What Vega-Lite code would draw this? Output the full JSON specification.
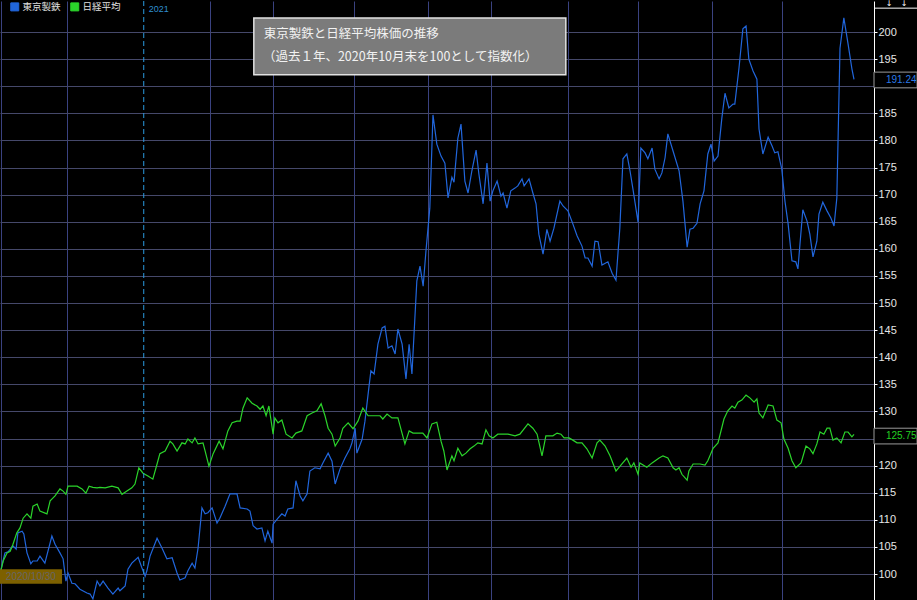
{
  "$schema": "https://vega.github.io/schema/vega-lite/v6.json",
  "width": 874,
  "height": 600,
  "padding": 0,
  "autosize": {"type": "pad"},
  "background": "#000000",
  "config": {
    "view": {"stroke": null},
    "font": "Noto Sans CJK JP"
  },
  "data": {
    "values": [
      {"name":"東京製鉄","day":1,"value":100},
      {"name":"東京製鉄","day":2.4,"value":103.9},
      {"name":"東京製鉄","day":3.3,"value":104.1},
      {"name":"東京製鉄","day":4.7,"value":105.2},
      {"name":"東京製鉄","day":5.6,"value":104.6},
      {"name":"東京製鉄","day":6.1,"value":107.6},
      {"name":"東京製鉄","day":7.3,"value":107.9},
      {"name":"東京製鉄","day":7.8,"value":107.4},
      {"name":"東京製鉄","day":8.7,"value":103.9},
      {"name":"東京製鉄","day":9.8,"value":101.9},
      {"name":"東京製鉄","day":10.4,"value":102.4},
      {"name":"東京製鉄","day":11.6,"value":102.4},
      {"name":"東京製鉄","day":12.4,"value":103.3},
      {"name":"東京製鉄","day":13.8,"value":102.0},
      {"name":"東京製鉄","day":15.8,"value":107.0},
      {"name":"東京製鉄","day":16.7,"value":105.5},
      {"name":"東京製鉄","day":18.1,"value":103.9},
      {"name":"東京製鉄","day":19.0,"value":102.8},
      {"name":"東京製鉄","day":19.8,"value":98.7},
      {"name":"東京製鉄","day":20.4,"value":100.2},
      {"name":"東京製鉄","day":21.5,"value":98.3},
      {"name":"東京製鉄","day":22.4,"value":98.2},
      {"name":"東京製鉄","day":23.8,"value":97.2},
      {"name":"東京製鉄","day":25.8,"value":96.5},
      {"name":"東京製鉄","day":26.7,"value":96.3},
      {"name":"東京製鉄","day":27.5,"value":95.4},
      {"name":"東京製鉄","day":28.7,"value":98.7},
      {"name":"東京製鉄","day":29.5,"value":97.8},
      {"name":"東京製鉄","day":30.4,"value":98.7},
      {"name":"東京製鉄","day":31.8,"value":97.4},
      {"name":"東京製鉄","day":33.2,"value":96.3},
      {"name":"東京製鉄","day":34.7,"value":97.4},
      {"name":"東京製鉄","day":35.2,"value":96.9},
      {"name":"東京製鉄","day":36.7,"value":97.8},
      {"name":"東京製鉄","day":37.5,"value":100.9},
      {"name":"東京製鉄","day":38.6,"value":102.0},
      {"name":"東京製鉄","day":40.4,"value":103.1},
      {"name":"東京製鉄","day":41.5,"value":101.1},
      {"name":"東京製鉄","day":42.4,"value":99.6},
      {"name":"東京製鉄","day":42.9,"value":100.6},
      {"name":"東京製鉄","day":43.8,"value":103.3},
      {"name":"東京製鉄","day":45.8,"value":106.6},
      {"name":"東京製鉄","day":47.2,"value":104.8},
      {"name":"東京製鉄","day":48.6,"value":102.8},
      {"name":"東京製鉄","day":50.1,"value":103.0},
      {"name":"東京製鉄","day":51.5,"value":100.2},
      {"name":"東京製鉄","day":52.3,"value":98.9},
      {"name":"東京製鉄","day":53.8,"value":99.3},
      {"name":"東京製鉄","day":54.6,"value":100.6},
      {"name":"東京製鉄","day":55.8,"value":102.0},
      {"name":"東京製鉄","day":56.6,"value":101.1},
      {"name":"東京製鉄","day":57.5,"value":104.8},
      {"name":"東京製鉄","day":58.6,"value":112.2},
      {"name":"東京製鉄","day":59.5,"value":111.1},
      {"name":"東京製鉄","day":60.3,"value":111.3},
      {"name":"東京製鉄","day":61.5,"value":112.2},
      {"name":"東京製鉄","day":62.9,"value":109.4},
      {"name":"東京製鉄","day":63.7,"value":110.3},
      {"name":"東京製鉄","day":65.2,"value":112.5},
      {"name":"東京製鉄","day":66.6,"value":114.8},
      {"name":"東京製鉄","day":68.6,"value":114.8},
      {"name":"東京製鉄","day":69.5,"value":112.2},
      {"name":"東京製鉄","day":71.5,"value":112.0},
      {"name":"東京製鉄","day":72.3,"value":111.6},
      {"name":"東京製鉄","day":73.2,"value":108.9},
      {"name":"東京製鉄","day":74.3,"value":108.3},
      {"name":"東京製鉄","day":75.7,"value":108.5},
      {"name":"東京製鉄","day":76.6,"value":106.1},
      {"name":"東京製鉄","day":77.4,"value":107.9},
      {"name":"東京製鉄","day":78.6,"value":105.7},
      {"name":"東京製鉄","day":78.9,"value":109.2},
      {"name":"東京製鉄","day":80.3,"value":110.3},
      {"name":"東京製鉄","day":81.4,"value":111.1},
      {"name":"東京製鉄","day":82.3,"value":110.7},
      {"name":"東京製鉄","day":83.1,"value":112.0},
      {"name":"東京製鉄","day":84.6,"value":112.2},
      {"name":"東京製鉄","day":85.4,"value":117.2},
      {"name":"東京製鉄","day":86.6,"value":114.4},
      {"name":"東京製鉄","day":87.4,"value":113.5},
      {"name":"東京製鉄","day":88.6,"value":114.8},
      {"name":"東京製鉄","day":89.4,"value":119.0},
      {"name":"東京製鉄","day":90.8,"value":119.6},
      {"name":"東京製鉄","day":92.3,"value":119.4},
      {"name":"東京製鉄","day":93.1,"value":120.5},
      {"name":"東京製鉄","day":94.6,"value":122.3},
      {"name":"東京製鉄","day":95.7,"value":120.8},
      {"name":"東京製鉄","day":96.6,"value":116.6},
      {"name":"東京製鉄","day":98.0,"value":119.4},
      {"name":"東京製鉄","day":99.4,"value":121.4},
      {"name":"東京製鉄","day":100.8,"value":123.1},
      {"name":"東京製鉄","day":101.4,"value":124.2},
      {"name":"東京製鉄","day":102.3,"value":126.9},
      {"name":"東京製鉄","day":102.8,"value":122.3},
      {"name":"東京製鉄","day":104.3,"value":124.9},
      {"name":"東京製鉄","day":105.1,"value":128.2},
      {"name":"東京製鉄","day":106.2,"value":134.3},
      {"name":"東京製鉄","day":106.8,"value":137.5},
      {"name":"東京製鉄","day":107.7,"value":136.9},
      {"name":"東京製鉄","day":108.8,"value":142.4},
      {"name":"東京製鉄","day":110.0,"value":145.4},
      {"name":"東京製鉄","day":110.8,"value":145.7},
      {"name":"東京製鉄","day":111.7,"value":141.7},
      {"name":"東京製鉄","day":112.8,"value":142.1},
      {"name":"東京製鉄","day":113.7,"value":140.6},
      {"name":"東京製鉄","day":114.5,"value":145.2},
      {"name":"東京製鉄","day":115.7,"value":142.4},
      {"name":"東京製鉄","day":116.8,"value":136.0},
      {"name":"東京製鉄","day":117.7,"value":142.4},
      {"name":"東京製鉄","day":118.5,"value":136.9},
      {"name":"東京製鉄","day":119.9,"value":154.1},
      {"name":"東京製鉄","day":120.8,"value":156.8},
      {"name":"東京製鉄","day":121.7,"value":153.1},
      {"name":"東京製鉄","day":122.5,"value":159.6},
      {"name":"東京製鉄","day":123.6,"value":167.5},
      {"name":"東京製鉄","day":124.5,"value":184.7},
      {"name":"東京製鉄","day":125.6,"value":179.3},
      {"name":"東京製鉄","day":126.8,"value":177.1},
      {"name":"東京製鉄","day":127.9,"value":175.8},
      {"name":"東京製鉄","day":128.8,"value":169.4},
      {"name":"東京製鉄","day":129.9,"value":173.2},
      {"name":"東京製鉄","day":130.5,"value":172.3},
      {"name":"東京製鉄","day":131.6,"value":180.4},
      {"name":"東京製鉄","day":132.5,"value":183.0},
      {"name":"東京製鉄","day":133.6,"value":172.5},
      {"name":"東京製鉄","day":134.5,"value":170.3},
      {"name":"東京製鉄","day":135.6,"value":174.4},
      {"name":"東京製鉄","day":136.8,"value":178.2},
      {"name":"東京製鉄","day":137.6,"value":173.8},
      {"name":"東京製鉄","day":138.8,"value":168.3},
      {"name":"東京製鉄","day":139.9,"value":175.8},
      {"name":"東京製鉄","day":140.8,"value":168.8},
      {"name":"東京製鉄","day":141.6,"value":170.7},
      {"name":"東京製鉄","day":142.8,"value":172.5},
      {"name":"東京製鉄","day":143.9,"value":169.7},
      {"name":"東京製鉄","day":144.5,"value":170.3},
      {"name":"東京製鉄","day":145.6,"value":167.5},
      {"name":"東京製鉄","day":146.7,"value":170.7},
      {"name":"東京製鉄","day":147.9,"value":171.2},
      {"name":"東京製鉄","day":148.7,"value":171.6},
      {"name":"東京製鉄","day":149.9,"value":172.9},
      {"name":"東京製鉄","day":150.5,"value":171.6},
      {"name":"東京製鉄","day":151.9,"value":172.9},
      {"name":"東京製鉄","day":153.0,"value":170.3},
      {"name":"東京製鉄","day":153.9,"value":168.3},
      {"name":"東京製鉄","day":154.7,"value":162.7},
      {"name":"東京製鉄","day":155.9,"value":159.0},
      {"name":"東京製鉄","day":157.0,"value":163.6},
      {"name":"東京製鉄","day":157.9,"value":161.4},
      {"name":"東京製鉄","day":159.0,"value":163.8},
      {"name":"東京製鉄","day":160.7,"value":168.8},
      {"name":"東京製鉄","day":161.6,"value":167.9},
      {"name":"東京製鉄","day":163.0,"value":167.0},
      {"name":"東京製鉄","day":164.4,"value":164.6},
      {"name":"東京製鉄","day":165.6,"value":162.4},
      {"name":"東京製鉄","day":167.0,"value":160.5},
      {"name":"東京製鉄","day":167.9,"value":158.3},
      {"name":"東京製鉄","day":168.7,"value":158.3},
      {"name":"東京製鉄","day":169.9,"value":156.8},
      {"name":"東京製鉄","day":170.7,"value":161.4},
      {"name":"東京製鉄","day":171.6,"value":161.3},
      {"name":"東京製鉄","day":172.7,"value":157.0},
      {"name":"東京製鉄","day":174.4,"value":157.6},
      {"name":"東京製鉄","day":175.6,"value":155.5},
      {"name":"東京製鉄","day":176.7,"value":154.2},
      {"name":"東京製鉄","day":177.8,"value":163.8},
      {"name":"東京製鉄","day":178.7,"value":176.6},
      {"name":"東京製鉄","day":179.8,"value":177.5},
      {"name":"東京製鉄","day":180.7,"value":174.4},
      {"name":"東京製鉄","day":181.5,"value":171.2},
      {"name":"東京製鉄","day":183.0,"value":164.9},
      {"name":"東京製鉄","day":183.8,"value":178.6},
      {"name":"東京製鉄","day":185.0,"value":177.7},
      {"name":"東京製鉄","day":185.8,"value":176.6},
      {"name":"東京製鉄","day":187.0,"value":178.6},
      {"name":"東京製鉄","day":187.8,"value":174.7},
      {"name":"東京製鉄","day":189.0,"value":172.9},
      {"name":"東京製鉄","day":189.8,"value":174.0},
      {"name":"東京製鉄","day":190.7,"value":176.8},
      {"name":"東京製鉄","day":191.5,"value":181.2},
      {"name":"東京製鉄","day":193.0,"value":178.0},
      {"name":"東京製鉄","day":194.7,"value":174.4},
      {"name":"東京製鉄","day":195.8,"value":168.8},
      {"name":"東京製鉄","day":197.0,"value":160.3},
      {"name":"東京製鉄","day":197.8,"value":163.6},
      {"name":"東京製鉄","day":198.7,"value":163.8},
      {"name":"東京製鉄","day":199.8,"value":164.7},
      {"name":"東京製鉄","day":200.7,"value":168.3},
      {"name":"東京製鉄","day":201.8,"value":170.7},
      {"name":"東京製鉄","day":202.9,"value":177.5},
      {"name":"東京製鉄","day":203.8,"value":179.3},
      {"name":"東京製鉄","day":204.7,"value":176.2},
      {"name":"東京製鉄","day":205.8,"value":177.1},
      {"name":"東京製鉄","day":206.9,"value":184.1},
      {"name":"東京製鉄","day":207.8,"value":188.7},
      {"name":"東京製鉄","day":208.9,"value":186.0},
      {"name":"東京製鉄","day":210.1,"value":186.7},
      {"name":"東京製鉄","day":210.6,"value":186.7},
      {"name":"東京製鉄","day":211.8,"value":193.4},
      {"name":"東京製鉄","day":212.9,"value":200.6},
      {"name":"東京製鉄","day":213.8,"value":201.1},
      {"name":"東京製鉄","day":214.6,"value":195.0},
      {"name":"東京製鉄","day":215.8,"value":192.8},
      {"name":"東京製鉄","day":216.9,"value":191.3},
      {"name":"東京製鉄","day":217.5,"value":182.1},
      {"name":"東京製鉄","day":218.6,"value":177.5},
      {"name":"東京製鉄","day":220.1,"value":180.6},
      {"name":"東京製鉄","day":221.2,"value":179.0},
      {"name":"東京製鉄","day":222.0,"value":177.7},
      {"name":"東京製鉄","day":222.9,"value":177.9},
      {"name":"東京製鉄","day":224.0,"value":174.7},
      {"name":"東京製鉄","day":224.9,"value":168.8},
      {"name":"東京製鉄","day":225.8,"value":164.6},
      {"name":"東京製鉄","day":226.9,"value":157.8},
      {"name":"東京製鉄","day":228.0,"value":157.6},
      {"name":"東京製鉄","day":228.6,"value":156.3},
      {"name":"東京製鉄","day":230.0,"value":167.2},
      {"name":"東京製鉄","day":231.2,"value":165.1},
      {"name":"東京製鉄","day":232.0,"value":162.7},
      {"name":"東京製鉄","day":232.9,"value":158.5},
      {"name":"東京製鉄","day":234.0,"value":161.4},
      {"name":"東京製鉄","day":234.6,"value":166.4},
      {"name":"東京製鉄","day":235.7,"value":168.6},
      {"name":"東京製鉄","day":236.9,"value":167.0},
      {"name":"東京製鉄","day":238.0,"value":165.7},
      {"name":"東京製鉄","day":238.9,"value":164.2},
      {"name":"東京製鉄","day":239.7,"value":169.4},
      {"name":"東京製鉄","day":240.6,"value":197.0},
      {"name":"東京製鉄","day":241.7,"value":202.6},
      {"name":"東京製鉄","day":242.9,"value":197.8},
      {"name":"東京製鉄","day":244.0,"value":193.2},
      {"name":"東京製鉄","day":244.6,"value":191.24},
      {"name":"日経平均","day":1,"value":100},
      {"name":"日経平均","day":1.9,"value":102.4},
      {"name":"日経平均","day":3.0,"value":103.9},
      {"name":"日経平均","day":3.9,"value":104.2},
      {"name":"日経平均","day":4.7,"value":105.5},
      {"name":"日経平均","day":5.8,"value":107.6},
      {"name":"日経平均","day":6.7,"value":108.5},
      {"name":"日経平均","day":7.6,"value":110.3},
      {"name":"日経平均","day":8.7,"value":111.1},
      {"name":"日経平均","day":9.8,"value":110.3},
      {"name":"日経平均","day":10.4,"value":112.5},
      {"name":"日経平均","day":11.6,"value":112.9},
      {"name":"日経平均","day":12.4,"value":111.6},
      {"name":"日経平均","day":14.4,"value":111.1},
      {"name":"日経平均","day":15.3,"value":113.5},
      {"name":"日経平均","day":16.7,"value":114.4},
      {"name":"日経平均","day":18.1,"value":115.7},
      {"name":"日経平均","day":19.0,"value":115.3},
      {"name":"日経平均","day":19.8,"value":114.7},
      {"name":"日経平均","day":20.4,"value":116.2},
      {"name":"日経平均","day":23.0,"value":116.2},
      {"name":"日経平均","day":24.4,"value":115.7},
      {"name":"日経平均","day":25.5,"value":114.9},
      {"name":"日経平均","day":26.4,"value":116.2},
      {"name":"日経平均","day":27.5,"value":116.0},
      {"name":"日経平均","day":28.7,"value":115.9},
      {"name":"日経平均","day":29.5,"value":116.0},
      {"name":"日経平均","day":31.0,"value":115.9},
      {"name":"日経平均","day":32.9,"value":116.2},
      {"name":"日経平均","day":34.7,"value":115.9},
      {"name":"日経平均","day":35.8,"value":114.7},
      {"name":"日経平均","day":37.2,"value":115.3},
      {"name":"日経平均","day":38.6,"value":115.9},
      {"name":"日経平均","day":39.5,"value":116.6},
      {"name":"日経平均","day":40.6,"value":119.6},
      {"name":"日経平均","day":41.8,"value":118.6},
      {"name":"日経平均","day":43.2,"value":118.1},
      {"name":"日経平均","day":44.6,"value":117.5},
      {"name":"日経平均","day":45.8,"value":120.3},
      {"name":"日経平均","day":46.6,"value":122.2},
      {"name":"日経平均","day":48.1,"value":122.7},
      {"name":"日経平均","day":49.5,"value":124.5},
      {"name":"日経平均","day":50.3,"value":124.0},
      {"name":"日経平均","day":51.5,"value":122.7},
      {"name":"日経平均","day":52.9,"value":124.2},
      {"name":"日経平均","day":53.8,"value":124.0},
      {"name":"日経平均","day":54.6,"value":124.9},
      {"name":"日経平均","day":55.8,"value":124.2},
      {"name":"日経平均","day":56.6,"value":125.1},
      {"name":"日経平均","day":57.5,"value":124.0},
      {"name":"日経平均","day":58.9,"value":124.2},
      {"name":"日経平均","day":59.5,"value":122.7},
      {"name":"日経平均","day":60.6,"value":119.9},
      {"name":"日経平均","day":61.8,"value":122.2},
      {"name":"日経平均","day":63.5,"value":124.5},
      {"name":"日経平均","day":64.6,"value":123.1},
      {"name":"日経平均","day":66.0,"value":126.4},
      {"name":"日経平均","day":67.2,"value":127.9},
      {"name":"日経平均","day":68.6,"value":128.2},
      {"name":"日経平均","day":69.5,"value":128.2},
      {"name":"日経平均","day":70.3,"value":130.6},
      {"name":"日経平均","day":71.5,"value":132.5},
      {"name":"日経平均","day":72.9,"value":131.5},
      {"name":"日経平均","day":74.3,"value":131.0},
      {"name":"日経平均","day":75.2,"value":130.4},
      {"name":"日経平均","day":76.0,"value":131.0},
      {"name":"日経平均","day":76.9,"value":129.2},
      {"name":"日経平均","day":77.7,"value":131.0},
      {"name":"日経平均","day":78.9,"value":125.8},
      {"name":"日経平均","day":79.4,"value":128.8},
      {"name":"日経平均","day":80.3,"value":127.9},
      {"name":"日経平均","day":81.4,"value":128.4},
      {"name":"日経平均","day":82.6,"value":125.8},
      {"name":"日経平均","day":84.3,"value":125.1},
      {"name":"日経平均","day":85.4,"value":126.0},
      {"name":"日経平均","day":87.1,"value":126.4},
      {"name":"日経平均","day":88.6,"value":129.2},
      {"name":"日経平均","day":90.0,"value":129.7},
      {"name":"日経平均","day":91.4,"value":130.1},
      {"name":"日経平均","day":92.6,"value":131.4},
      {"name":"日経平均","day":93.7,"value":129.2},
      {"name":"日経平均","day":94.6,"value":126.9},
      {"name":"日経平均","day":95.7,"value":125.8},
      {"name":"日経平均","day":96.6,"value":123.6},
      {"name":"日経平均","day":98.0,"value":125.1},
      {"name":"日経平均","day":98.8,"value":126.9},
      {"name":"日経平均","day":100.3,"value":127.9},
      {"name":"日経平均","day":101.7,"value":126.8},
      {"name":"日経平均","day":103.1,"value":128.2},
      {"name":"日経平均","day":104.5,"value":130.6},
      {"name":"日経平均","day":106.0,"value":129.2},
      {"name":"日経平均","day":108.0,"value":129.2},
      {"name":"日経平均","day":109.4,"value":129.2},
      {"name":"日経平均","day":110.2,"value":128.6},
      {"name":"日経平均","day":111.4,"value":129.5},
      {"name":"日経平均","day":112.8,"value":128.8},
      {"name":"日経平均","day":114.5,"value":128.8},
      {"name":"日経平均","day":116.5,"value":124.0},
      {"name":"日経平均","day":117.7,"value":126.4},
      {"name":"日経平均","day":118.8,"value":126.0},
      {"name":"日経平均","day":120.2,"value":126.0},
      {"name":"日経平均","day":121.6,"value":126.0},
      {"name":"日経平均","day":122.8,"value":125.1},
      {"name":"日経平均","day":124.2,"value":127.7},
      {"name":"日経平均","day":125.6,"value":128.0},
      {"name":"日経平均","day":126.8,"value":124.5},
      {"name":"日経平均","day":127.6,"value":122.7},
      {"name":"日経平均","day":128.5,"value":119.2},
      {"name":"日経平均","day":129.9,"value":121.8},
      {"name":"日経平均","day":130.5,"value":120.9},
      {"name":"日経平均","day":131.6,"value":123.2},
      {"name":"日経平均","day":132.8,"value":121.8},
      {"name":"日経平均","day":133.9,"value":122.3},
      {"name":"日経平均","day":135.1,"value":123.1},
      {"name":"日経平均","day":136.2,"value":123.6},
      {"name":"日経平均","day":137.3,"value":124.2},
      {"name":"日経平均","day":138.5,"value":124.0},
      {"name":"日経平均","day":139.6,"value":126.6},
      {"name":"日経平均","day":140.5,"value":125.5},
      {"name":"日経平均","day":141.6,"value":125.1},
      {"name":"日経平均","day":143.0,"value":125.8},
      {"name":"日経平均","day":144.5,"value":125.8},
      {"name":"日経平均","day":145.9,"value":125.8},
      {"name":"日経平均","day":147.9,"value":125.5},
      {"name":"日経平均","day":149.3,"value":125.8},
      {"name":"日経平均","day":151.6,"value":127.7},
      {"name":"日経平均","day":153.0,"value":126.9},
      {"name":"日経平均","day":154.2,"value":125.8},
      {"name":"日経平均","day":155.6,"value":121.8},
      {"name":"日経平均","day":156.7,"value":125.5},
      {"name":"日経平均","day":158.7,"value":125.5},
      {"name":"日経平均","day":159.9,"value":126.0},
      {"name":"日経平均","day":161.0,"value":125.8},
      {"name":"日経平均","day":161.9,"value":125.1},
      {"name":"日経平均","day":163.3,"value":125.1},
      {"name":"日経平均","day":164.4,"value":124.7},
      {"name":"日経平均","day":165.6,"value":124.2},
      {"name":"日経平均","day":167.0,"value":124.2},
      {"name":"日経平均","day":168.4,"value":123.1},
      {"name":"日経平均","day":169.9,"value":121.4},
      {"name":"日経平均","day":171.3,"value":124.2},
      {"name":"日経平均","day":172.1,"value":124.7},
      {"name":"日経平均","day":173.6,"value":123.6},
      {"name":"日経平均","day":175.0,"value":121.8},
      {"name":"日経平均","day":176.7,"value":119.0},
      {"name":"日経平均","day":178.4,"value":120.3},
      {"name":"日経平均","day":179.8,"value":121.4},
      {"name":"日経平均","day":181.0,"value":119.7},
      {"name":"日経平均","day":181.8,"value":120.5},
      {"name":"日経平均","day":183.0,"value":118.4},
      {"name":"日経平均","day":183.5,"value":120.5},
      {"name":"日経平均","day":185.5,"value":119.7},
      {"name":"日経平均","day":187.0,"value":120.5},
      {"name":"日経平均","day":189.0,"value":121.4},
      {"name":"日経平均","day":190.1,"value":121.8},
      {"name":"日経平均","day":191.5,"value":121.4},
      {"name":"日経平均","day":193.0,"value":119.6},
      {"name":"日経平均","day":193.8,"value":119.2},
      {"name":"日経平均","day":194.7,"value":119.6},
      {"name":"日経平均","day":195.5,"value":118.4},
      {"name":"日経平均","day":197.0,"value":117.3},
      {"name":"日経平均","day":197.5,"value":119.0},
      {"name":"日経平均","day":198.7,"value":120.3},
      {"name":"日経平均","day":200.7,"value":120.3},
      {"name":"日経平均","day":202.1,"value":120.1},
      {"name":"日経平均","day":202.9,"value":120.9},
      {"name":"日経平均","day":204.4,"value":123.2},
      {"name":"日経平均","day":205.8,"value":124.2},
      {"name":"日経平均","day":207.5,"value":128.6},
      {"name":"日経平均","day":208.6,"value":130.1},
      {"name":"日経平均","day":209.8,"value":131.0},
      {"name":"日経平均","day":210.6,"value":130.6},
      {"name":"日経平均","day":211.5,"value":131.7},
      {"name":"日経平均","day":212.6,"value":132.1},
      {"name":"日経平均","day":213.8,"value":133.0},
      {"name":"日経平均","day":214.9,"value":132.5},
      {"name":"日経平均","day":216.1,"value":131.7},
      {"name":"日経平均","day":216.9,"value":132.3},
      {"name":"日経平均","day":217.5,"value":129.7},
      {"name":"日経平均","day":218.6,"value":128.8},
      {"name":"日経平均","day":220.1,"value":131.2},
      {"name":"日経平均","day":221.5,"value":131.0},
      {"name":"日経平均","day":222.6,"value":128.4},
      {"name":"日経平均","day":223.8,"value":127.9},
      {"name":"日経平均","day":224.6,"value":124.9},
      {"name":"日経平均","day":225.8,"value":123.2},
      {"name":"日経平均","day":226.9,"value":120.9},
      {"name":"日経平均","day":228.0,"value":119.6},
      {"name":"日経平均","day":229.5,"value":120.5},
      {"name":"日経平均","day":230.9,"value":123.6},
      {"name":"日経平均","day":232.0,"value":123.1},
      {"name":"日経平均","day":232.9,"value":122.2},
      {"name":"日経平均","day":234.0,"value":124.0},
      {"name":"日経平均","day":234.9,"value":126.2},
      {"name":"日経平均","day":236.0,"value":125.8},
      {"name":"日経平均","day":236.9,"value":126.9},
      {"name":"日経平均","day":237.7,"value":126.9},
      {"name":"日経平均","day":238.6,"value":124.7},
      {"name":"日経平均","day":239.7,"value":125.1},
      {"name":"日経平均","day":240.9,"value":124.2},
      {"name":"日経平均","day":242.0,"value":126.2},
      {"name":"日経平均","day":242.9,"value":126.2},
      {"name":"日経平均","day":244.0,"value":125.3},
      {"name":"日経平均","day":244.6,"value":125.75}
    ]
  },
  "layer": [
    {
      "mark": {"type": "line", "strokeWidth": 1.2, "clip": true},
      "encoding": {
        "x": {
          "field": "day", "type": "quantitative",
          "scale": {"domain": [1, 250.3], "nice": false, "zero": false},
          "axis": {
            "orient": "bottom", "title": null, "labels": false, "ticks": false, "domain": false,
            "grid": true, "gridColor": "#3a4280", "gridWidth": 1, "tickCount": 30,
            "values": [1.2, 20, 61, 79, 102, 123, 141, 163, 183, 204, 224]
          }
        },
        "y": {
          "field": "value", "type": "quantitative",
          "scale": {"domain": [95.02, 205.72], "nice": false, "zero": false},
          "axis": {
            "orient": "right", "title": null, "tickCount": 40,
            "values": [100,105,110,115,120,125,130,135,140,145,150,155,160,165,170,175,180,185,190,195,200],
            "labelOverlap": false,
            "labelExpr": "datum.value == 190 || datum.value == 125 ? '' : datum.label",
            "grid": true, "gridColor": "#45486a", "gridWidth": 1,
            "domainColor": "#ffffff", "domainWidth": 1,
            "tickColor": "#ffffff", "tickSize": 3,
            "labelColor": "#e6e6e6", "labelFont": "Liberation Sans", "labelFontSize": 11,
            "labelPadding": 1
          }
        },
        "color": {
          "field": "name", "type": "nominal",
          "scale": {"domain": ["東京製鉄", "日経平均"], "range": ["#2166dc", "#2bd42b"]},
          "legend": {
            "orient": "none", "legendX": 10, "legendY": 1, "direction": "horizontal",
            "title": null, "symbolType": "square", "symbolSize": 64,
            "symbolStrokeColor": "#ffffff", "symbolStrokeWidth": 1,
            "labelColor": "#e0e0e0", "labelFontSize": 9.5, "labelFont": "Noto Sans CJK JP",
            "labelOffset": 3, "columnPadding": 7, "padding": 0,
            "encode": {"symbols": {"update": {"fill": {"scale": "color", "field": "value"}, "fillOpacity": {"value": 1}}}}
          }
        }
      }
    },
    {
      "data": {"values": [{}]},
      "mark": {"type": "rule", "color": "#2a9be0", "strokeDash": [5, 3], "strokeWidth": 1},
      "encoding": {"x": {"datum": 42}}
    },
    {
      "data": {"values": [{}]},
      "mark": {"type": "text", "text": "2021", "color": "#2f8fd0", "fontSize": 9, "font": "Liberation Sans", "align": "left", "baseline": "middle"},
      "encoding": {"x": {"datum": 43.4}, "y": {"datum": 204.2, "axis": {"orient": "right"}}}
    },
    {
      "data": {"values": [{}]},
      "mark": {"type": "rect", "fill": "#7b7b7b", "stroke": "#e2e2e2", "strokeWidth": 1.5},
      "encoding": {"x": {"datum": 73.4}, "x2": {"datum": 162.4}, "y": {"datum": 202.6, "axis": {"orient": "right"}}, "y2": {"datum": 192.1}}
    },
    {
      "data": {"values": [{}]},
      "mark": {"type": "text", "text": "東京製鉄と日経平均株価の推移", "color": "#f2f2f2", "fontSize": 12.5, "font": "Noto Sans CJK JP", "align": "left", "baseline": "middle"},
      "encoding": {"x": {"datum": 76.2}, "y": {"datum": 199.6, "axis": {"orient": "right"}}}
    },
    {
      "data": {"values": [{}]},
      "mark": {"type": "text", "text": "（過去１年、2020年10月末を100として指数化）", "color": "#f2f2f2", "fontSize": 12.5, "font": "Noto Sans CJK JP", "align": "left", "baseline": "middle"},
      "encoding": {"x": {"datum": 76.0}, "y": {"datum": 195.3, "axis": {"orient": "right"}}}
    },
    {
      "data": {"values": [{}]},
      "mark": {"type": "rect", "fill": "#7d6000"},
      "encoding": {"x": {"datum": 1}, "x2": {"datum": 18.7}, "y": {"datum": 100.9, "axis": {"orient": "right"}}, "y2": {"datum": 98.2}}
    },
    {
      "data": {"values": [{}]},
      "mark": {"type": "text", "text": "2020/10/30", "color": "#666666", "fontSize": 10, "font": "Liberation Sans", "align": "center", "baseline": "middle"},
      "encoding": {"x": {"datum": 9.8}, "y": {"datum": 99.5, "axis": {"orient": "right"}}}
    },
    {
      "data": {"values": [{}]},
      "mark": {"type": "rect", "fill": "#000000", "stroke": "#9a9a9a", "strokeWidth": 1},
      "encoding": {"x": {"datum": 250.3}, "x2": {"datum": 262.6}, "y": {"datum": 192.6, "axis": {"orient": "right"}}, "y2": {"datum": 189.7}}
    },
    {
      "data": {"values": [{}]},
      "mark": {"type": "text", "text": "191.24", "color": "#2a7ae6", "fontSize": 10, "font": "Liberation Sans", "align": "left", "baseline": "middle"},
      "encoding": {"x": {"datum": 253.7}, "y": {"datum": 191.2, "axis": {"orient": "right"}}}
    },
    {
      "data": {"values": [{}]},
      "mark": {"type": "rect", "fill": "#000000", "stroke": "#9a9a9a", "strokeWidth": 1},
      "encoding": {"x": {"datum": 250.3}, "x2": {"datum": 262.6}, "y": {"datum": 126.9, "axis": {"orient": "right"}}, "y2": {"datum": 124.0}}
    },
    {
      "data": {"values": [{}]},
      "mark": {"type": "text", "text": "125.75", "color": "#22d022", "fontSize": 10, "font": "Liberation Sans", "align": "left", "baseline": "middle"},
      "encoding": {"x": {"datum": 253.7}, "y": {"datum": 125.45, "axis": {"orient": "right"}}}
    },
    {
      "data": {"values": [{}]},
      "mark": {"type": "rule", "color": "#ffffff", "strokeWidth": 1},
      "encoding": {"x": {"datum": 250.3}, "x2": {"datum": 262.6}, "y": {"datum": 204.4, "axis": {"orient": "right"}}}
    },
    {
      "data": {"values": [{}]},
      "mark": {"type": "text", "text": "↓", "color": "#ffffff", "fontSize": 8, "font": "DejaVu Sans", "align": "center", "baseline": "bottom"},
      "encoding": {"x": {"datum": 254.6}, "y": {"datum": 204.4, "axis": {"orient": "right"}}}
    },
    {
      "data": {"values": [{}]},
      "mark": {"type": "text", "text": "↓", "color": "#ffffff", "fontSize": 8, "font": "DejaVu Sans", "align": "center", "baseline": "bottom"},
      "encoding": {"x": {"datum": 258.9}, "y": {"datum": 204.4, "axis": {"orient": "right"}}}
    }
  ]
}
